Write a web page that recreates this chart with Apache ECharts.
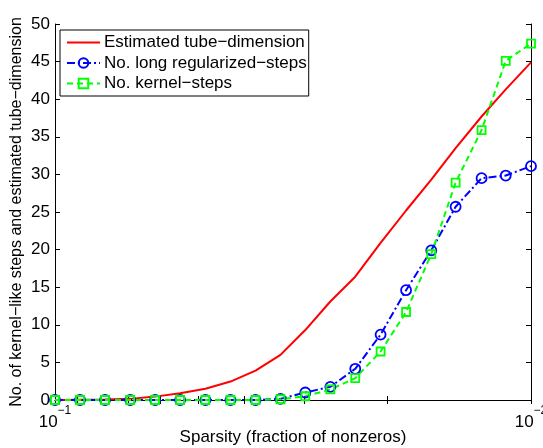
<!DOCTYPE html>
<html>
<head>
<meta charset="utf-8">
<script src="https://cdn.jsdelivr.net/npm/echarts@6/dist/echarts.min.js"></script>
<style>
  html, body { margin: 0; padding: 0; background: #fff; }
  #chart { width: 543px; height: 448px; }
</style>
</head>
<body>
<div id="chart"></div>
<script>
  // sparsity values (fraction of nonzeros), log-spaced from 1e-1 to 1e-2
  var sparsity = [0.1, 0.0886, 0.0785, 0.0695, 0.0616, 0.0546, 0.0483, 0.0428, 0.0379, 0.0336,
                  0.0298, 0.0264, 0.0234, 0.0207, 0.0183, 0.0162, 0.0144, 0.0127, 0.0113, 0.01];
  var tubeDim = [0, 0.03, 0.06, 0.15, 0.45, 0.9, 1.5, 2.45, 3.9, 6.0,
                 9.3, 13.1, 16.4, 20.9, 25.2, 29.3, 33.5, 37.7, 41.3, 44.9];
  var longRegSteps = [0, 0, 0, 0, 0, 0, 0, 0, 0, 0.15,
                      1.0, 1.75, 4.15, 8.7, 14.6, 19.9, 25.7, 29.5, 29.85, 31.1];
  var kernelSteps = [0, 0, 0, 0, 0, 0, 0, 0, 0, 0.1,
                     0.5, 1.4, 2.9, 6.45, 11.7, 19.4, 28.9, 35.9, 45.1, 47.4];
  var xMajorTicks = [0.1, 0.01];
  var xMinorTicks = [0.01, 0.02, 0.03, 0.04, 0.05, 0.06, 0.07, 0.08, 0.09, 0.1];
  var seriesNames = ['Estimated tube\u2212dimension', 'No. long regularized\u2212steps', 'No. kernel\u2212steps'];

  var font = "'Liberation Sans', Arial, sans-serif";

  function pairs(ys) {
    var out = [];
    for (var i = 0; i < sparsity.length; i++) {
      out.push([sparsity[i], ys[i]]);
    }
    return out;
  }

  var chart = echarts.init(document.getElementById('chart'));
  var option = {
    animation: false,
    backgroundColor: '#fff',
    textStyle: { fontFamily: font },
    grid: { left: 55, right: 12, top: 24, bottom: 48, containLabel: false, outerBoundsMode: 'none' },
    legend: {
      orient: 'vertical',
      left: 60,
      top: 30,
      padding: [4, 2, 4, 6],
      itemGap: 3.5,
      itemWidth: 33,
      itemHeight: 12,
      borderColor: '#000',
      borderWidth: 1,
      backgroundColor: '#fff',
      textStyle: { fontFamily: font, fontSize: 17, color: '#000', lineHeight: 17, padding: [0, 0, 0, -1] },
      data: [
        { name: seriesNames[0], itemStyle: { opacity: 0 } },
        seriesNames[1],
        seriesNames[2]
      ]
    },
    xAxis: [{
      type: 'log',
      logBase: 10,
      min: 0.01,
      max: 0.1,
      inverse: true,
      name: 'Sparsity (fraction of nonzeros)',
      nameLocation: 'middle',
      nameGap: 29,
      nameMoveOverlap: false,
      nameTextStyle: { fontFamily: font, fontSize: 17, color: '#000' },
      axisLine: { lineStyle: { color: '#000', width: 1 } },
      axisTick: { inside: true, length: 4, customValues: xMinorTicks, lineStyle: { color: '#000' } },
      splitLine: { show: false },
      axisLabel: {
        customValues: xMajorTicks,
        margin: 5,
        color: '#000',
        formatter: function (v) {
          var e = Math.round(Math.log10(v));
          return '{b|10}{s|\u2212' + Math.abs(e) + '}';
        },
        rich: {
          b: { fontFamily: font, fontSize: 17, color: '#000', lineHeight: 26, verticalAlign: 'bottom' },
          s: { fontFamily: font, fontSize: 12, color: '#000', lineHeight: 26, verticalAlign: 'top' }
        }
      }
    }, {
      type: 'log',
      logBase: 10,
      min: 0.01,
      max: 0.1,
      inverse: true,
      position: 'top',
      axisLine: { lineStyle: { color: '#000', width: 1 } },
      axisTick: { inside: true, length: 4, customValues: xMinorTicks, lineStyle: { color: '#000' } },
      axisLabel: { show: false },
      splitLine: { show: false }
    }],
    yAxis: [{
      type: 'value',
      min: 0,
      max: 50,
      interval: 5,
      name: 'No. of kernel\u2212like steps and estimated tube\u2212dimension',
      nameLocation: 'middle',
      nameGap: 30,
      nameMoveOverlap: false,
      nameTextStyle: { fontFamily: font, fontSize: 16, color: '#000' },
      axisLine: { show: true, lineStyle: { color: '#000', width: 1 } },
      axisTick: { show: true, inside: true, length: 5, lineStyle: { color: '#000' } },
      axisLabel: { margin: 5, fontFamily: font, fontSize: 17, color: '#000' },
      splitLine: { show: false }
    }, {
      type: 'value',
      min: 0,
      max: 50,
      interval: 5,
      position: 'right',
      axisLine: { show: true, lineStyle: { color: '#000', width: 1 } },
      axisTick: { show: true, inside: true, length: 5, lineStyle: { color: '#000' } },
      axisLabel: { show: false },
      splitLine: { show: false }
    }],
    series: [{
      name: seriesNames[0],
      type: 'line',
      symbol: 'none',
      lineStyle: { color: '#ff0000', width: 2 },
      itemStyle: { color: '#ff0000' },
      data: pairs(tubeDim)
    }, {
      name: seriesNames[1],
      type: 'line',
      symbol: 'circle',
      symbolSize: 10,
      showAllSymbol: true,
      lineStyle: { color: '#0000ff', width: 2, type: [8, 3, 2, 3] },
      itemStyle: { color: 'rgba(0,0,0,0)', borderColor: '#0000ff', borderWidth: 1.8 },
      data: pairs(longRegSteps)
    }, {
      name: seriesNames[2],
      type: 'line',
      symbol: 'rect',
      symbolSize: 8,
      showAllSymbol: true,
      lineStyle: { color: '#00ff00', width: 2, type: [6, 4] },
      itemStyle: { color: 'rgba(0,0,0,0)', borderColor: '#00ff00', borderWidth: 1.8 },
      data: pairs(kernelSteps)
    }]
  };
  chart.setOption(option);
</script>
</body>
</html>
